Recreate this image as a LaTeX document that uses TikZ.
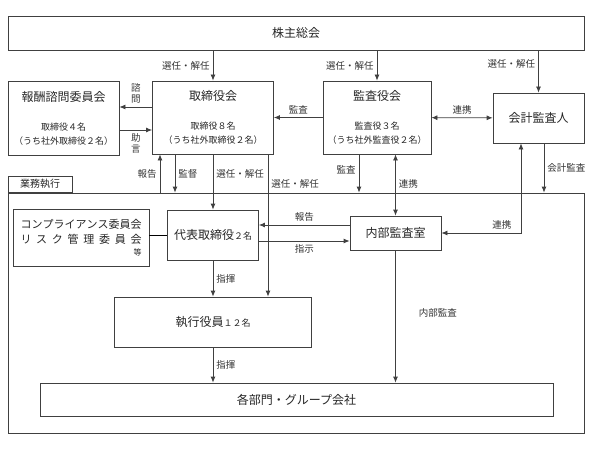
\documentclass[tikz,border=0pt]{standalone}
\usepackage{fontspec}
\setmainfont{Noto Sans CJK JP}
\usetikzlibrary{arrows.meta}
\newcommand{\fs}[1]{\fontsize{#1}{#1}\selectfont}

\begin{document}
\begin{tikzpicture}[x=1pt, y=-1pt, line width=0.8pt]
\tikzstyle{box} = [draw=black!75, rectangle, inner sep=0pt, align=center, font=\fs{12}, text=black!85]
\tikzstyle{arr} = [draw=black!75, -{Latex[length=6pt,width=5pt]}]
\tikzstyle{dbl} = [draw=black!75, {Latex[length=6pt,width=5pt]}-{Latex[length=6pt,width=5pt]}]
\tikzstyle{lbl} = [font=\fs{9.5}, text=black!80, inner sep=3pt]

\useasboundingbox (0,0) rectangle (593,449);

% top row
\node[box, minimum width=576, minimum height=34] (sh) at (296,33) {株主総会};
\node[box, minimum width=111, minimum height=74] (adv) at (63.5,118)
    {報酬諮問委員会\\[17pt]{\fs{9}取締役４名}\\[2pt]{\fs{9}（うち社外取締役２名）}};
\node[box, minimum width=121, minimum height=73] (bod) at (213,117.5)
    {取締役会\\[17pt]{\fs{9}取締役８名}\\[2pt]{\fs{9}（うち社外取締役２名）}};
\node[box, minimum width=108, minimum height=73] (kan) at (377,117.5)
    {監査役会\\[17pt]{\fs{9}監査役３名}\\[2pt]{\fs{9}（うち社外監査役２名）}};
\node[box, minimum width=91, minimum height=50] (ext) at (538.5,118) {会計監査人};

% business execution
\node[draw=black!75, minimum width=576, minimum height=240, inner sep=0pt] (ops) at (296,313) {};
\node[draw=black!75, anchor=south west, minimum width=64, minimum height=16, inner sep=0pt,
    font=\fs{10}, text=black!85] (tab) at (ops.north west) {業務執行};
\node[box, minimum width=136, minimum height=57, align=right, font=\fs{11}] (cmp) at (81,237.5)
    {\makebox[121pt][s]{コ\hfill ン\hfill プ\hfill ラ\hfill イ\hfill ア\hfill ン\hfill ス\hfill 委\hfill 員\hfill 会}\\[4pt]
     \makebox[121pt][s]{リ\hfill ス\hfill ク\hfill 管\hfill 理\hfill 委\hfill 員\hfill 会}\\[1pt]
     {\fs{8}等}};
\node[box, minimum width=91, minimum height=50] (ceo) at (213,235) {代表取締役{\fs{9}２名}};
\node[box, minimum width=91, minimum height=34] (ia) at (395.5,233) {内部監査室};
\node[box, minimum width=197, minimum height=50] (exe) at (213,322) {執行役員{\fs{9}１２名}};
\node[box, minimum width=513, minimum height=33] (dep) at (296.5,399.5) {各部門・グループ会社};

% x / y positions of connectors
\coordinate (xa) at (160,0);
\coordinate (xb) at (175,0);
\coordinate (xc) at (268,0);
\coordinate (xd) at (359,0);
\coordinate (xf) at (521,0);
\coordinate (xg) at (544,0);
\coordinate (ya) at (0,107);
\coordinate (yb) at (0,130);
\coordinate (yc) at (0,225);
\coordinate (yd) at (0,241);

% connectors
\draw[arr] (sh.south -| bod) -- node[lbl, left] (l1) {選任・解任} (bod.north);
\draw[arr] (sh.south -| kan) -- node[lbl, left] (l2) {選任・解任} (kan.north);
\draw[arr] (sh.south -| ext) -- node[lbl, left, pos=.33] (l3) {選任・解任} (ext.north);
\draw[arr] (bod.west |- ya) -- node[lbl, above, align=center] (l4) {諮\\[2pt]問} (adv.east |- ya);
\draw[arr] (adv.east |- yb) -- node[lbl, below, align=center] (l5) {助\\[2pt]言} (bod.west |- yb);
\draw[arr] (kan) -- node[lbl, above] (l6) {監査} (bod);
\draw[dbl] (kan) -- node[lbl, above] (l7) {連携} (ext);
\draw[arr] (ops.north -| xa) -- node[lbl, left] (l8) {報告} (bod.south -| xa);
\draw[arr] (bod.south -| xb) -- node[lbl, right] (l9) {監督} (ops.north -| xb);
\draw[arr] (bod.south) -- node[lbl, right, pos=.35] (l10) {選任・解任} (ceo.north);
\draw[arr] (bod.south -| xc) -- node[lbl, right, pos=.21] (l11) {選任・解任} (exe.north -| xc);
\draw[arr] (kan.south -| xd) -- node[lbl, left, pos=.4] (l12) {監査} (ops.north -| xd);
\draw[dbl] (kan.south -| ia) -- node[lbl, right, pos=.48] (l13) {連携} (ia.north);
\draw[dbl] (ext.south -| xf) |- node[lbl, above, pos=.62] (l14) {連携} (ia.east);
\draw[arr] (ext.south -| xg) -- node[lbl, right] (l15) {会計監査} (ops.north -| xg);
\draw (cmp.east |- ceo) -- (ceo.west);
\draw[arr] (ia.west |- yc) -- node[lbl, above] (l16) {報告} (ceo.east |- yc);
\draw[arr] (ceo.east |- yd) -- node[lbl, below] (l17) {指示} (ia.west |- yd);
\draw[arr] (ceo.south) -- node[lbl, right] (l18) {指揮} (exe.north);
\draw[arr] (exe.south) -- node[lbl, right] (l19) {指揮} (exe.south |- dep.north);
\draw[arr] (ia.south) -- node[lbl, right=20pt, pos=.47] (l20) {内部監査} (ia.south |- dep.north);
\end{tikzpicture}
\end{document}
